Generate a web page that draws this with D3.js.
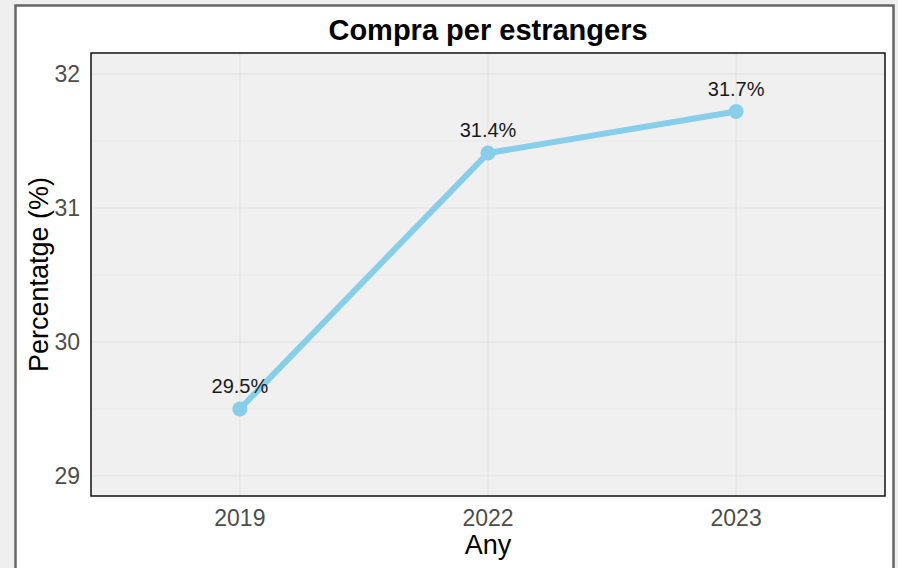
<html>
<head>
<script src="https://d3js.org/d3.v7.min.js"></script>
<style>
  body { margin: 0; background: #efefef; }
  svg { display: block; font-family: "Liberation Sans", Arial, sans-serif; }
</style>
</head>
<body>
<svg width="898" height="568"></svg>
<script>
// data
const years = ["2019", "2022", "2023"];
const values = [29.5, 31.41, 31.72];
const yTicks = [29, 30, 31, 32];
const yMinor = [29.5, 30.5, 31.5];

const svg = d3.select("svg");

// outer frame
svg.append("rect")
  .attr("x", 15.5).attr("y", 5.5)
  .attr("width", 878).attr("height", 580)
  .attr("fill", "white")
  .attr("stroke", "#666").attr("stroke-width", 2.5);

const pLeft = 91, pRight = 885, pTop = 53, pBottom = 496;

const xs = d3.scalePoint().domain(years).range([pLeft, pRight]).padding(0.6);
const ys = d3.scaleLinear().domain([28.85, 32.157]).range([pBottom, pTop]);

// panel
svg.append("rect")
  .attr("x", pLeft).attr("y", pTop)
  .attr("width", pRight - pLeft).attr("height", pBottom - pTop)
  .attr("fill", "#f0f0f0");

// grid
svg.append("g").selectAll("line").data(yMinor).enter().append("line")
  .attr("x1", pLeft).attr("x2", pRight)
  .attr("y1", d => ys(d)).attr("y2", d => ys(d))
  .attr("stroke", "#e8e8e8").attr("stroke-width", 1);
svg.append("g").selectAll("line").data(yTicks).enter().append("line")
  .attr("x1", pLeft).attr("x2", pRight)
  .attr("y1", d => ys(d)).attr("y2", d => ys(d))
  .attr("stroke", "#e3e3e3").attr("stroke-width", 1.2);
svg.append("g").selectAll("line").data(years).enter().append("line")
  .attr("x1", d => xs(d)).attr("x2", d => xs(d))
  .attr("y1", pTop).attr("y2", pBottom)
  .attr("stroke", "#e3e3e3").attr("stroke-width", 1.2);

// line + points
const pts = years.map((y, i) => ({year: y, value: values[i]}));
svg.append("path")
  .datum(pts)
  .attr("fill", "none")
  .attr("stroke", "#87CEEB")
  .attr("stroke-width", 6)
  .attr("stroke-linejoin", "round")
  .attr("d", d3.line().x(d => xs(d.year)).y(d => ys(d.value)));

svg.append("g").selectAll("circle").data(pts).enter().append("circle")
  .attr("cx", d => xs(d.year)).attr("cy", d => ys(d.value))
  .attr("r", 7.5).attr("fill", "#87CEEB");

svg.append("g").selectAll("text").data(pts).enter().append("text")
  .attr("x", d => xs(d.year)).attr("y", d => ys(d.value) - 16)
  .attr("text-anchor", "middle")
  .attr("font-size", 20).attr("fill", "#1a1a1a")
  .text(d => d.value.toFixed(1) + "%");

// panel border
svg.append("rect")
  .attr("x", pLeft).attr("y", pTop)
  .attr("width", pRight - pLeft).attr("height", pBottom - pTop)
  .attr("fill", "none").attr("stroke", "#111").attr("stroke-width", 1.5);

// x axis labels
svg.append("g").selectAll("text").data(years).enter().append("text")
  .attr("x", d => xs(d)).attr("y", 526)
  .attr("text-anchor", "middle")
  .attr("font-size", 23).attr("fill", "#4d4d4d")
  .text(d => d);

// y axis labels
svg.append("g").selectAll("text").data(yTicks).enter().append("text")
  .attr("x", 80).attr("y", d => ys(d) + 8)
  .attr("text-anchor", "end")
  .attr("font-size", 23).attr("fill", "#4d4d4d")
  .text(d => d);

// titles
svg.append("text")
  .attr("x", (pLeft + pRight) / 2).attr("y", 40)
  .attr("text-anchor", "middle")
  .attr("font-size", 29).attr("font-weight", "bold").attr("fill", "#000")
  .text("Compra per estrangers");

svg.append("text")
  .attr("x", (pLeft + pRight) / 2).attr("y", 554)
  .attr("text-anchor", "middle")
  .attr("font-size", 27).attr("fill", "#000")
  .text("Any");

svg.append("text")
  .attr("transform", "translate(48," + ((pTop + pBottom) / 2) + ") rotate(-90)")
  .attr("text-anchor", "middle")
  .attr("font-size", 27).attr("fill", "#000")
  .text("Percentatge (%)");
</script>
</body>
</html>
